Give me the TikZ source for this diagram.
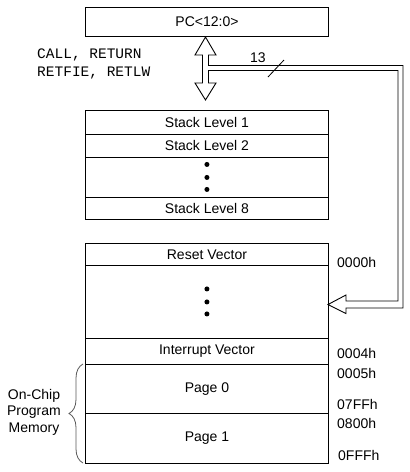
\documentclass[tikz,border=0pt]{standalone}
\usepackage{fontspec}
\setmainfont{Liberation Sans}
\setmonofont{Liberation Mono}
\usetikzlibrary{decorations.pathreplacing}
\begin{document}
\begin{tikzpicture}[x=1pt, y=-1pt,
    every node/.style={font=\fontsize{14}{16.5}\selectfont, inner sep=0pt},
    cell/.style={rectangle, draw, line width=0.9pt, minimum width=243pt, anchor=north west},
    addr/.style={anchor=west}]
    \useasboundingbox (0,0) rectangle (410,472);

    % Program counter
    \node[cell, minimum height=29pt] (pc) at (85,7) {PC<12:0>};

    % Stack
    \node[cell, minimum height=24pt] (sl1) at (85,110) {Stack Level 1};
    \node[cell, minimum height=23pt] (sl2) at (85,134) {Stack Level 2};
    \node[cell, minimum height=40pt] (sldots) at (85,157) {};
    \node[cell, minimum height=22pt] (sl8) at (85,197) {Stack Level 8};
    \foreach \dy in {-13,0,12}
        \fill (sldots.center) ++(0,\dy) circle (2.5pt);

    % Program memory
    \node[cell, minimum height=22pt] (rv) at (85,243) {Reset Vector};
    \node[cell, minimum height=73pt] (memdots) at (85,265) {};
    \node[cell, minimum height=26pt] (iv) at (85,338) {Interrupt Vector};
    \node[cell, minimum height=49pt] (pg0) at (85,364) {Page 0};
    \node[cell, minimum height=50pt] (pg1) at (85,413) {Page 1};
    \foreach \dy in {-13,0,12}
        \fill (memdots.center) ++(0,\dy) circle (2.5pt);

    \node[addr] (a0000) at (337,262) {0000h};
    \node[addr] (a0004) at (337,353) {0004h};
    \node[addr] (a0005) at (337,373) {0005h};
    \node[addr] (a07ff) at (337,404) {07FFh};
    \node[addr] (a0800) at (337,423) {0800h};
    \node[addr] (a0fff) at (338,455) {0FFFh};

    % Instructions that move the stack
    \node[anchor=west, font=\ttfamily\fontsize{14.5}{17}\selectfont] (calls) at (37,55) {CALL, RETURN};
    \node[anchor=west, font=\ttfamily\fontsize{14.5}{17}\selectfont] (rets) at (37,73) {RETFIE, RETLW};

    % Hollow bus arrows
    \draw[line width=0.9pt, fill=white]
        (205.5,37) -- (216,55) -- (208.5,55) -- (208.5,65.5) -- (403,65.5)
        -- (403,308) -- (346,308) -- (346,313.5) -- (328,304.5) -- (346,295)
        -- (346,301) -- (398,301) -- (398,70.5) -- (208.5,70.5) -- (208.5,83)
        -- (216,83) -- (205.5,100) -- (195,83) -- (202.5,83) -- (202.5,55)
        -- (195,55) -- cycle;

    % Bus width
    \draw[line width=0.8pt] (268,77) -- (284,60);
    \node (width) at (258,58) {13};

    % On-chip memory brace
    \draw[gray!70!black, line width=0.8pt, decorate, decoration={brace, amplitude=14pt}]
        (83,463) -- (83,364);
    \node[align=center] (onchip) at (34,412) {On-Chip\\Program\\Memory};
\end{tikzpicture}
\end{document}
